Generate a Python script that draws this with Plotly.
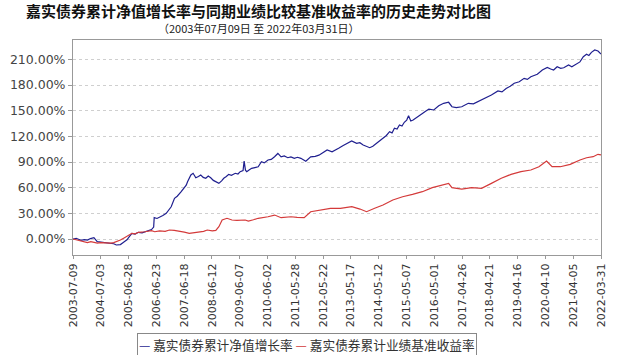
import plotly.graph_objects as go

# ---- data ----
nav_dates = [
    "2003-07-09","2003-08-20","2003-09-25","2003-10-19","2003-12-01","2004-01-12","2004-02-20","2004-04-05",
    "2004-05-18","2004-07-01","2004-08-15","2004-09-24","2004-11-05","2004-12-18","2005-01-20","2005-02-25",
    "2005-03-14","2005-04-20","2005-06-07","2005-07-10","2005-08-10","2005-09-20","2005-11-02","2005-12-20",
    "2006-01-26","2006-03-10","2006-04-21","2006-05-19","2006-05-26","2006-07-01","2006-08-04","2006-09-15",
    "2006-10-29","2006-12-05","2007-01-01","2007-02-13","2007-03-20","2007-05-08","2007-06-20","2007-07-15",
    "2007-08-01","2007-09-13","2007-10-12","2007-11-16","2007-12-20","2008-01-19","2008-02-20","2008-03-24",
    "2008-04-25","2008-05-27","2008-06-30","2008-07-30","2008-09-10","2008-10-15","2008-11-12","2008-12-15",
    "2009-01-15","2009-02-20","2009-04-10","2009-05-15","2009-06-13","2009-07-20","2009-08-03","2009-08-20",
    "2009-09-06","2009-10-10","2009-11-08","2009-12-20","2010-02-01","2010-03-15","2010-04-20","2010-06-08",
    "2010-07-20","2010-09-01","2010-10-14","2010-11-25","2011-01-05","2011-02-19","2011-04-01","2011-05-15",
    "2011-06-25","2011-08-08","2011-10-11","2011-12-13","2012-02-10","2012-03-29","2012-05-20","2012-07-13",
    "2012-09-15","2012-10-25","2012-12-09","2013-02-01","2013-03-24","2013-05-27","2013-07-30","2013-09-10",
    "2013-10-23","2013-12-01","2014-01-16","2014-02-25","2014-04-11","2014-05-25","2014-07-08","2014-08-20",
    "2014-09-30","2014-11-01","2014-12-02","2015-01-05","2015-02-05","2015-03-10","2015-04-09","2015-05-10",
    "2015-06-03","2015-07-02","2015-08-01","2015-09-05","2015-10-20","2015-11-29","2016-01-05","2016-02-21",
    "2016-04-25","2016-06-28","2016-08-31","2016-11-03","2016-12-16","2017-02-10","2017-04-22","2017-07-16",
    "2017-09-20","2017-11-21","2018-02-15","2018-05-11","2018-08-04","2018-09-25","2018-11-18","2019-01-10",
    "2019-03-03","2019-05-07","2019-07-09","2019-08-20","2019-10-04","2019-12-27","2020-03-01","2020-05-04",
    "2020-06-17","2020-07-25","2020-09-09","2020-10-25","2020-12-03","2021-02-04","2021-03-18","2021-05-20",
    "2021-07-01","2021-08-14","2021-09-25","2021-10-25","2021-11-27","2022-01-09","2022-02-20","2022-03-31",
]
nav_values = [
    0.0, 0.8, -0.5, -1.5, -0.8, -1.2, 0.5, 1.5,
    -3.0, -3.5, -4.2, -4.0, -5.0, -5.5, -7.0, -6.2,
    -6.5, -4.0, -1.0, 3.0, 6.6, 5.8, 7.8, 7.2,
    8.5, 9.7, 11.0, 14.0, 25.0, 24.0, 26.0, 27.5,
    30.0, 34.0, 37.7, 47.5, 50.0, 55.0, 61.0, 63.0,
    67.0, 74.8, 76.8, 71.6, 73.0, 74.8, 72.0, 71.0,
    73.5, 71.6, 68.5, 67.0, 65.0, 68.0, 71.0, 73.0,
    75.6, 74.5, 76.8, 76.0, 78.7, 80.0, 91.0, 80.5,
    78.7, 81.0, 82.6, 83.5, 84.5, 90.3, 89.0, 92.3,
    93.0, 96.2, 100.0, 96.0, 97.0, 95.0, 96.0, 94.3,
    95.5, 94.3, 91.0, 96.0, 96.5, 98.0, 101.0, 104.0,
    102.0, 103.5, 106.0, 109.0, 111.8, 114.5, 111.8, 112.5,
    109.9, 108.0, 106.7, 108.5, 111.8, 114.0, 117.7, 121.0,
    125.4, 124.0, 129.4, 128.5, 133.3, 132.0, 136.4, 139.0,
    144.0, 137.9, 139.0, 141.0, 143.5, 146.8, 149.0, 151.9,
    150.8, 155.8, 158.6, 159.8, 154.6, 153.5, 154.6, 158.6,
    158.0, 160.5, 164.4, 168.3, 173.0, 172.0, 176.0, 178.5,
    182.0, 183.8, 187.8, 186.5, 189.7, 192.5, 197.5, 200.6,
    198.7, 197.5, 201.4, 199.5, 200.2, 203.4, 201.4, 205.3,
    207.0, 213.1, 215.9, 214.5, 218.2, 220.9, 219.7, 216.2,
]

bench_dates = [
    "2003-07-09","2003-08-25","2003-10-19","2003-12-10","2004-01-12","2004-02-25","2004-04-05","2004-05-20",
    "2004-07-01","2004-08-20","2004-09-24","2004-11-10","2004-12-18","2005-02-01","2005-03-14","2005-04-25",
    "2005-06-07","2005-08-10","2005-09-20","2005-11-02","2006-01-26","2006-04-21","2006-06-02","2006-08-04",
    "2006-10-15","2006-12-09","2007-02-10","2007-04-17","2007-06-20","2007-08-23","2007-10-20","2007-12-28",
    "2008-02-25","2008-04-12","2008-06-16","2008-08-01","2008-09-10","2008-10-22","2008-12-24","2009-02-26",
    "2009-05-01","2009-08-16","2009-09-27","2009-12-01","2010-02-01","2010-06-08","2010-09-02","2010-11-25",
    "2011-01-20","2011-04-02","2011-06-20","2011-09-20","2011-12-13","2012-04-19","2012-08-25","2013-01-01",
    "2013-05-29","2013-09-12","2013-12-06","2014-03-21","2014-07-07","2014-11-11","2015-03-18","2015-07-24",
    "2015-11-29","2016-04-05","2016-05-18","2016-08-11","2016-11-03","2016-12-16","2017-04-22","2017-08-29",
    "2018-01-04","2018-05-11","2018-09-16","2019-01-21","2019-05-29","2019-10-04","2020-01-17","2020-04-25",
    "2020-07-05","2020-10-20","2021-02-25","2021-07-02","2021-09-25","2021-12-19","2022-02-20","2022-03-31",
]
bench_values = [
    0.0, -1.0, -3.0, -3.5, -4.3, -3.2, -4.0, -4.8,
    -4.3, -4.6, -5.0, -4.9, -4.3, -3.0, -1.2, 1.0,
    3.5, 6.6, 6.0, 7.8, 8.5, 9.7, 8.5, 9.4,
    9.0, 10.5, 10.0, 9.4, 8.0, 6.6, 7.2, 8.5,
    9.0, 10.5, 9.4, 10.0, 14.4, 22.2, 24.2, 22.2,
    21.8, 22.2, 21.0, 22.5, 24.2, 26.0, 28.0, 24.9,
    25.5, 26.0, 25.3, 24.9, 31.9, 33.9, 35.9, 35.9,
    37.8, 35.0, 31.9, 35.9, 39.7, 45.6, 49.4, 52.2,
    55.3, 60.0, 61.1, 63.1, 65.0, 60.0, 58.4, 60.0,
    59.2, 65.0, 71.0, 75.6, 78.7, 80.6, 84.5, 91.2,
    84.5, 84.5, 87.3, 92.3, 95.0, 96.2, 99.0, 98.2,
]

tick_dates = [
    "2003-07-09","2004-07-03","2005-06-28","2006-06-23","2007-06-18","2008-06-12","2009-06-07",
    "2010-06-02","2011-05-28","2012-05-22","2013-05-17","2014-05-12","2015-05-07","2016-05-01",
    "2017-04-26","2018-04-21","2019-04-16","2020-04-10","2021-04-05","2022-03-31",
]
y_ticks = [0, 30, 60, 90, 120, 150, 180, 210]
y_tick_labels = [f"{v:.2f}%" for v in y_ticks]

series_names = ["嘉实债券累计净值增长率", "嘉实债券累计业绩基准收益率"]
series_colors = ["#1f1f8f", "#d43a3a"]
title_text = "嘉实债券累计净值增长率与同期业绩比较基准收益率的历史走势对比图"
subtitle_text = "（2003年07月09日 至 2022年03月31日）"

CJK = "Noto Sans CJK SC"
LAT = "DejaVu Sans"

fig = go.Figure()
fig.add_trace(go.Scatter(x=nav_dates, y=nav_values, mode="lines", name=series_names[0],
                         line=dict(color=series_colors[0], width=1.2)))
fig.add_trace(go.Scatter(x=bench_dates, y=bench_values, mode="lines", name=series_names[1],
                         line=dict(color=series_colors[1], width=1.2)))

legend_text = " ".join(
    f"<span style='color:{c}'>—</span> {n}" for n, c in zip(series_names, series_colors)
)

fig.update_layout(
    width=618, height=355,
    margin=dict(l=71, r=10, t=40, b=100),
    paper_bgcolor="white", plot_bgcolor="white",
    showlegend=False,
    annotations=[
        dict(text=title_text, xref="paper", yref="paper", x=0.352, y=1.1395,
             xanchor="center", yanchor="middle", showarrow=False,
             font=dict(family=CJK, size=15, color="#111111", weight="bold")),
        dict(text=subtitle_text, xref="paper", yref="paper", x=0.352, y=1.055,
             xanchor="center", yanchor="middle", showarrow=False,
             font=dict(family=CJK, size=11, color="#222222")),
        dict(text=legend_text, xref="paper", yref="paper", x=0.4423, y=-0.414,
             xanchor="center", yanchor="middle", showarrow=False,
             bordercolor="#888888", borderwidth=1, borderpad=1, bgcolor="white",
             font=dict(family=CJK, size=12.7, color="#333333")),
    ],
)

fig.update_xaxes(
    type="date", range=[tick_dates[0], tick_dates[-1]],
    tickmode="array", tickvals=tick_dates, ticktext=tick_dates, tickangle=-90,
    tickfont=dict(family=LAT, size=11, color="#333333"),
    showgrid=False, zeroline=False,
    showline=True, linecolor="#999999", linewidth=1, mirror=True,
    ticks="outside", ticklen=3, tickcolor="#999999",
)
fig.update_yaxes(
    range=[-18.7, 232.6],
    tickmode="array", tickvals=y_ticks, ticktext=y_tick_labels,
    tickfont=dict(family=LAT, size=12.5, color="#444444"),
    showgrid=True, gridcolor="#cfcfcf", griddash="dot", gridwidth=1,
    zeroline=False,
    showline=True, linecolor="#999999", linewidth=1, mirror=True,
    ticks="outside", ticklen=4, tickcolor="#999999",
)

fig.write_html("out.html")
